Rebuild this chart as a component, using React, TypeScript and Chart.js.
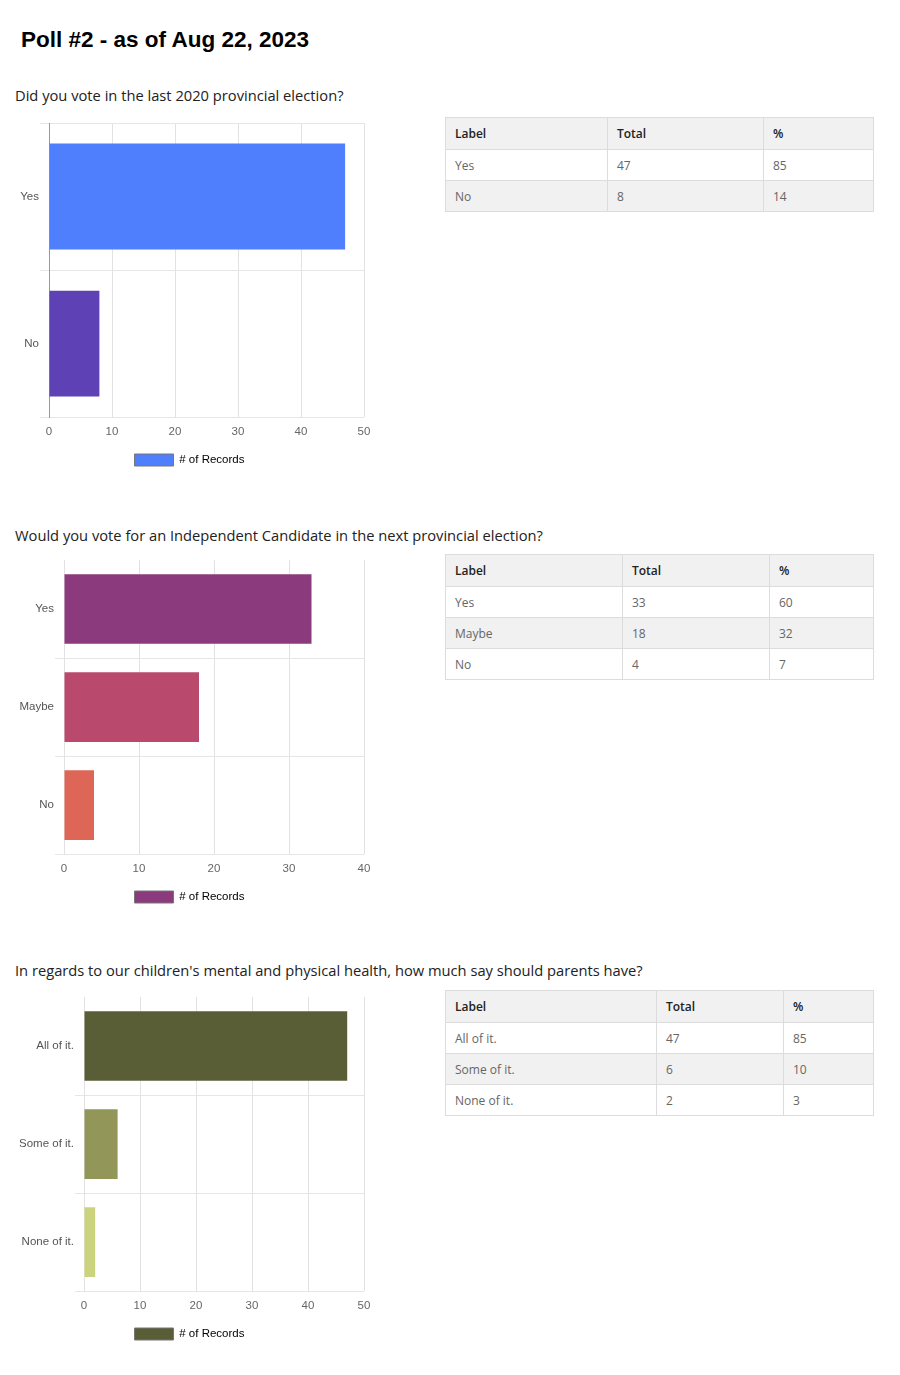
import React, { useEffect, useRef } from "react";
import { Chart, registerables } from "chart.js";

Chart.register(...registerables);

const PAGE_TITLE = "Poll #2 - as of Aug 22, 2023";
const SERIES_LABEL = "# of Records";
const TABLE_HEADERS = ["Label", "Total", "%"];

const Q1_TITLE = "Did you vote in the last 2020 provincial election?";
const Q1_LABELS = ["Yes", "No"];
const Q1_TOTALS = [47, 8];
const Q1_PCTS = [85, 14];
const Q1_COLORS = ["#4f7ffd", "#5e41b5"];
const Q1_MAX = 50;

const Q2_TITLE = "Would you vote for an Independent Candidate in the next provincial election?";
const Q2_LABELS = ["Yes", "Maybe", "No"];
const Q2_TOTALS = [33, 18, 4];
const Q2_PCTS = [60, 32, 7];
const Q2_COLORS = ["#8b3a7d", "#b94a6e", "#dd6657"];
const Q2_MAX = 40;

const Q3_TITLE = "In regards to our children's mental and physical health, how much say should parents have?";
const Q3_LABELS = ["All of it.", "Some of it.", "None of it."];
const Q3_TOTALS = [47, 6, 2];
const Q3_PCTS = [85, 10, 3];
const Q3_COLORS = ["#5a5e37", "#939659", "#cbd37d"];
const Q3_MAX = 50;

const TICK_STEP = 10;

type ChartProps = {
  labels: string[];
  values: number[];
  colors: string[];
  max: number;
  top: number;
  yWidth: number;
  catPct: number;
  axisColor: string;
  showTopLine: boolean;
};

const CANVAS_W = 379;
const CANVAS_H = 366;

function BarChart(p: ChartProps) {
  const ref = useRef<HTMLCanvasElement | null>(null);
  useEffect(() => {
    if (!ref.current) return;
    const font = { family: "Arial, 'Liberation Sans', sans-serif", size: 11.5 };
    const chart = new Chart(ref.current, {
      type: "bar",
      data: {
        labels: p.labels,
        datasets: [
          {
            label: SERIES_LABEL,
            data: p.values,
            backgroundColor: p.colors,
            categoryPercentage: p.catPct,
            barPercentage: 1,
          },
        ],
      },
      options: {
        indexAxis: "y",
        responsive: false,
        animation: false,
        layout: { padding: { left: 15, right: 15, top: 13, bottom: 0 } },
        scales: {
          x: {
            min: 0,
            max: p.max,
            ticks: { stepSize: TICK_STEP, color: "#666", font, padding: 8 },
            grid: { color: "#e2e2e2", drawTicks: false },
            border: { display: false },
          },
          y: {
            ticks: { color: "#555", font, padding: 1 },
            grid: {
              color: (ctx: any) => (ctx.index === 0 && !p.showTopLine ? "rgba(0,0,0,0)" : "#e6e6e6"),
              tickLength: 9,
              offset: true,
            },
            border: { color: p.axisColor },
            afterFit: (s: any) => {
              s.width = p.yWidth;
            },
          },
        },
        plugins: {
          legend: {
            position: "bottom",
            labels: {
              boxWidth: 39,
              boxHeight: 12,
              padding: 7,
              color: "#333",
              font,
              generateLabels: () => [
                {
                  text: SERIES_LABEL,
                  fillStyle: p.colors[0],
                  strokeStyle: "#777",
                  lineWidth: 1,
                  hidden: false,
                  datasetIndex: 0,
                } as any,
              ],
            },
          },
          tooltip: { enabled: false },
        },
      } as any,
    });
    return () => chart.destroy();
  }, []);
  return (
    <canvas
      ref={ref}
      width={CANVAS_W}
      height={CANVAS_H}
      style={{ position: "absolute", left: 0, top: p.top, width: CANVAS_W, height: CANVAS_H }}
    />
  );
}

type TableProps = {
  labels: string[];
  totals: number[];
  pcts: number[];
  top: number;
  colWidths: number[];
};

function DataTable(t: TableProps) {
  const cell: React.CSSProperties = {
    border: "1px solid #dcdcdc",
    padding: "0 0 0 9px",
    height: 31,
    boxSizing: "border-box",
    textAlign: "left",
    verticalAlign: "middle",
  };
  return (
    <table
      style={{
        position: "absolute",
        left: 445,
        top: t.top,
        width: 428,
        borderCollapse: "collapse",
        tableLayout: "fixed",
        fontFamily: "'Open Sans', 'Noto Sans', sans-serif",
        fontSize: 12,
        color: "#666",
      }}
    >
      <colgroup>
        {t.colWidths.map((w, i) => (
          <col key={i} style={{ width: w }} />
        ))}
      </colgroup>
      <thead>
        <tr style={{ background: "#f1f1f1" }}>
          {TABLE_HEADERS.map((h, i) => (
            <th key={i} style={{ ...cell, fontWeight: 600, color: "#222", height: 32 }}>
              {h}
            </th>
          ))}
        </tr>
      </thead>
      <tbody>
        {t.labels.map((l, i) => (
          <tr key={i} style={{ background: i % 2 === 1 ? "#f1f1f1" : "#fff" }}>
            <td style={cell}>{l}</td>
            <td style={cell}>{t.totals[i]}</td>
            <td style={cell}>{t.pcts[i]}</td>
          </tr>
        ))}
      </tbody>
    </table>
  );
}

const qStyle = (top: number): React.CSSProperties => ({
  position: "absolute",
  left: 15,
  top,
  margin: 0,
  fontFamily: "'Open Sans', 'Noto Sans', sans-serif",
  fontSize: 14.7,
  color: "#222",
  whiteSpace: "nowrap",
  lineHeight: "20px",
});

export default function App() {
  return (
    <div style={{ position: "absolute", left: 0, top: 0, width: 900, height: 1375, background: "#fff" }}>
      <div
        style={{
          position: "absolute",
          left: 21,
          top: 27,
          fontFamily: "Arial, 'Liberation Sans', sans-serif",
          fontWeight: "bold",
          fontSize: 22.5,
          lineHeight: "26px",
          color: "#000",
          whiteSpace: "nowrap",
        }}
      >
        {PAGE_TITLE}
      </div>

      <div style={qStyle(85)}>{Q1_TITLE}</div>
      <BarChart
        labels={Q1_LABELS}
        values={Q1_TOTALS}
        colors={Q1_COLORS}
        max={Q1_MAX}
        top={110}
        yWidth={34}
        catPct={0.72}
        axisColor="#999"
        showTopLine={true}
      />
      <DataTable labels={Q1_LABELS} totals={Q1_TOTALS} pcts={Q1_PCTS} top={117} colWidths={[162, 156, 110]} />

      <div style={qStyle(525)}>{Q2_TITLE}</div>
      <BarChart
        labels={Q2_LABELS}
        values={Q2_TOTALS}
        colors={Q2_COLORS}
        max={Q2_MAX}
        top={547}
        yWidth={49}
        catPct={0.71}
        axisColor="#e2e2e2"
        showTopLine={false}
      />
      <DataTable labels={Q2_LABELS} totals={Q2_TOTALS} pcts={Q2_PCTS} top={554} colWidths={[177, 147, 104]} />

      <div style={qStyle(960)}>{Q3_TITLE}</div>
      <BarChart
        labels={Q3_LABELS}
        values={Q3_TOTALS}
        colors={Q3_COLORS}
        max={Q3_MAX}
        top={984}
        yWidth={69}
        catPct={0.71}
        axisColor="#e2e2e2"
        showTopLine={false}
      />
      <DataTable labels={Q3_LABELS} totals={Q3_TOTALS} pcts={Q3_PCTS} top={990} colWidths={[211, 127, 90]} />
    </div>
  );
}
